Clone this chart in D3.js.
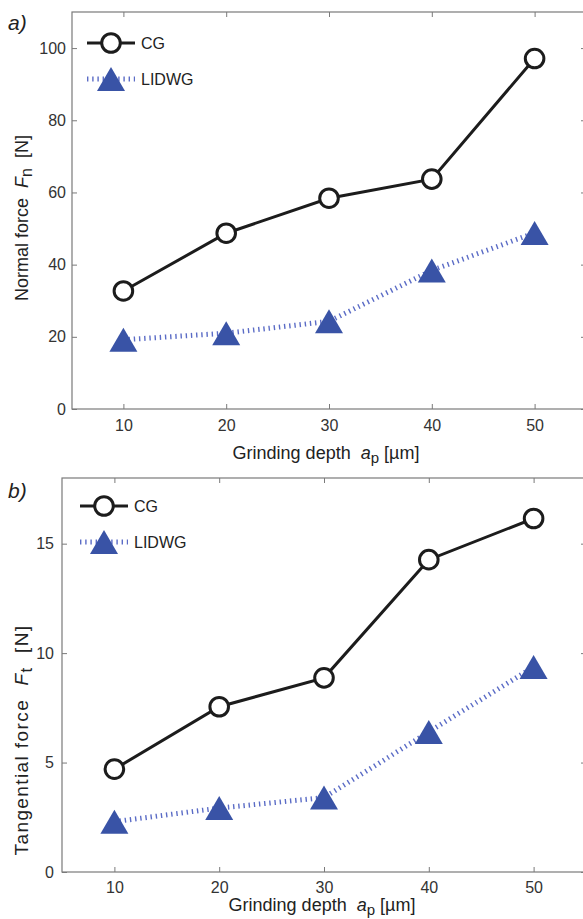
<!DOCTYPE html>
<html>
<head>
<meta charset="utf-8">
<script src="https://cdn.jsdelivr.net/npm/d3@7"></script>
<style>
  body { margin:0; background:#fff; }
  svg { display:block; }
</style>
</head>
<body>
<div id="chart"></div>
<script>

// grinding depth a_p [um]
var depth = [10, 20, 30, 40, 50];
var xTicks = [10, 20, 30, 40, 50];

// a) normal force Fn [N]
var fnCG    = [32.7, 48.7, 58.4, 63.7, 97.1];
var fnLIDWG = [19.2, 21.0, 24.3, 38.4, 48.8];
var fnTicks = [0, 20, 40, 60, 80, 100];

// b) tangential force Ft [N]
var ftCG    = [4.7, 7.55, 8.87, 14.27, 16.15];
var ftLIDWG = [2.3, 2.92, 3.4, 6.4, 9.37];
var ftTicks = [0, 5, 10, 15];

var seriesNames = ["CG", "LIDWG"];

var W = 583, H = 919;
var blue = "#3953a6";
var dotBlue = "#5b6cc6";
var axisColor = "#7a7a7a";
var FAM = "Liberation Sans, Arial, Helvetica, sans-serif";
var NB = "\u00a0";

var svg = d3.select("#chart").append("svg")
  .attr("width", W)
  .attr("height", H)
  .attr("font-family", FAM);

function trianglePath(w, h){
  return "M0," + (-h/2) + "L" + (w/2) + "," + (h/2) + "L" + (-w/2) + "," + (h/2) + "Z";
}

//......................... Panel ............................
function drawPanel(p){
  var x = d3.scaleLinear().domain([5, 55]).range([p.left, 586]);
  var y = d3.scaleLinear().domain(p.yDomain).range([p.bottom, p.top]);

  var g = svg.append("g").attr("class", p.name);

  // frame
  g.append("rect")
    .attr("x", p.left).attr("y", y(p.yDomain[1]))
    .attr("width", 586 - p.left).attr("height", p.bottom - y(p.yDomain[1]))
    .attr("fill", "none").attr("stroke", axisColor).attr("stroke-width", 1.2);

  var xAxis = g.append("g")
    .attr("transform", "translate(0," + p.bottom + ")")
    .call(d3.axisBottom(x).tickValues(xTicks).tickSize(-5).tickPadding(p.xPad));
  xAxis.attr("font-family", FAM).attr("font-size", p.tickSize);
  xAxis.select(".domain").remove();
  xAxis.selectAll("line").attr("stroke", axisColor);
  xAxis.selectAll("text").attr("fill", "#333");

  var xTop = g.append("g")
    .attr("transform", "translate(0," + y(p.yDomain[1]) + ")")
    .call(d3.axisTop(x).tickValues(xTicks).tickSize(-5).tickFormat(""));
  xTop.select(".domain").remove();
  xTop.selectAll("line").attr("stroke", axisColor);

  var yAxis = g.append("g")
    .attr("transform", "translate(" + p.left + ",0)")
    .call(d3.axisLeft(y).tickValues(p.yTicks).tickSize(-5).tickPadding(p.yPad));
  yAxis.attr("font-family", FAM).attr("font-size", p.tickSize);
  yAxis.select(".domain").remove();
  yAxis.selectAll("line").attr("stroke", axisColor);
  yAxis.selectAll("text").attr("fill", "#333");

  var yRight = g.append("g")
    .attr("transform", "translate(586,0)")
    .call(d3.axisRight(y).tickValues(p.yTicks).tickSize(-5).tickFormat(""));
  yRight.select(".domain").remove();
  yRight.selectAll("line").attr("stroke", axisColor);

  // x label
  var xl = g.append("text")
    .attr("x", p.xLabelX).attr("y", p.xLabelY)
    .attr("text-anchor", "middle")
    .attr("font-size", p.labelSize).attr("fill", "#222");
  xl.append("tspan").text("Grinding depth" + NB + NB);
  xl.append("tspan").attr("font-style", "italic").text("a");
  xl.append("tspan").attr("font-size", p.labelSize - 3).attr("dy", 4).text("p");
  xl.append("tspan").attr("dy", -4).text(NB + "[\u00b5m]");

  // y label
  var yl = g.append("text")
    .attr("transform", "translate(" + p.yLabelX + "," + p.yLabelY + ") rotate(-90)")
    .attr("text-anchor", "middle")
    .attr("font-size", p.yLabelSize).attr("letter-spacing", p.yLabelSpacing)
    .attr("fill", "#222");
  yl.append("tspan").text(p.yLabel + NB + NB);
  yl.append("tspan").attr("font-style", "italic").text("F");
  yl.append("tspan").attr("font-size", p.yLabelSize - 2).attr("dy", 4).text(p.sub);
  yl.append("tspan").attr("dy", -4).text(NB + NB + "[N]");

  // panel letter
  g.append("text")
    .attr("x", 8).attr("y", p.letterY)
    .attr("font-style", "italic").attr("font-size", 21)
    .attr("fill", "#222")
    .text(p.letter);

  var line = d3.line()
    .x(function(d, i){ return x(depth[i]); })
    .y(function(d){ return y(d); });

  // LIDWG dotted
  g.append("path")
    .datum(p.lidwg)
    .attr("d", line)
    .attr("fill", "none")
    .attr("stroke", dotBlue)
    .attr("stroke-width", 5)
    .attr("stroke-dasharray", "1.4,3.8");

  g.append("g").selectAll("path")
    .data(p.lidwg)
    .enter()
    .append("path")
    .attr("transform", function(d, i){ return "translate(" + x(depth[i]) + "," + y(d) + ")"; })
    .attr("d", trianglePath(28, 24))
    .attr("fill", blue);

  // CG solid
  g.append("path")
    .datum(p.cg)
    .attr("d", line)
    .attr("fill", "none")
    .attr("stroke", "#1c1c1c")
    .attr("stroke-width", 3);

  g.append("g").selectAll("circle")
    .data(p.cg)
    .enter()
    .append("circle")
    .attr("cx", function(d, i){ return x(depth[i]); })
    .attr("cy", function(d){ return y(d); })
    .attr("r", 9.3)
    .attr("fill", "#fff")
    .attr("stroke", "#1c1c1c")
    .attr("stroke-width", 3);

  // legend
  var lx = p.legX, ly = p.legY;
  g.append("line")
    .attr("x1", lx - 24).attr("x2", lx + 24)
    .attr("y1", ly).attr("y2", ly)
    .attr("stroke", "#1c1c1c").attr("stroke-width", 3);
  g.append("circle")
    .attr("cx", lx).attr("cy", ly).attr("r", 9.3)
    .attr("fill", "#fff").attr("stroke", "#1c1c1c").attr("stroke-width", 3);
  g.append("line")
    .attr("x1", lx - 24).attr("x2", lx + 24)
    .attr("y1", ly + p.legGap).attr("y2", ly + p.legGap)
    .attr("stroke", dotBlue).attr("stroke-width", 5)
    .attr("stroke-dasharray", "1.4,3.8");
  g.append("path")
    .attr("transform", "translate(" + lx + "," + (ly + p.legGap) + ")")
    .attr("d", trianglePath(28, 24))
    .attr("fill", blue);

  g.selectAll(".legtext")
    .data(seriesNames)
    .enter()
    .append("text")
    .attr("x", lx + 30)
    .attr("y", function(d, i){ return ly + i * p.legGap + 6; })
    .attr("font-size", 16)
    .attr("fill", "#222")
    .text(function(d){ return d; });
}

drawPanel({
  name: "panelA", letter: "a)", letterY: 30,
  left: 72, top: 12, bottom: 409,
  yDomain: [0, 110], yTicks: fnTicks, yPad: 6, xPad: 11,
  cg: fnCG, lidwg: fnLIDWG,
  tickSize: 16, labelSize: 18,
  xLabelX: 326, xLabelY: 459,
  yLabel: "Normal force", sub: "n", yLabelX: 28, yLabelY: 218,
  yLabelSize: 18, yLabelSpacing: 0,
  legX: 111, legY: 43, legGap: 36
});

drawPanel({
  name: "panelB", letter: "b)", letterY: 498,
  left: 62, top: 478, bottom: 872,
  yDomain: [0, 18], yTicks: ftTicks, yPad: 8, xPad: 10,
  cg: ftCG, lidwg: ftLIDWG,
  tickSize: 16, labelSize: 18,
  xLabelX: 322, xLabelY: 911,
  yLabel: "Tangential force", sub: "t", yLabelX: 28, yLabelY: 740,
  yLabelSize: 19, yLabelSpacing: 1.4,
  legX: 104, legY: 506, legGap: 36
});

</script>
</body>
</html>
